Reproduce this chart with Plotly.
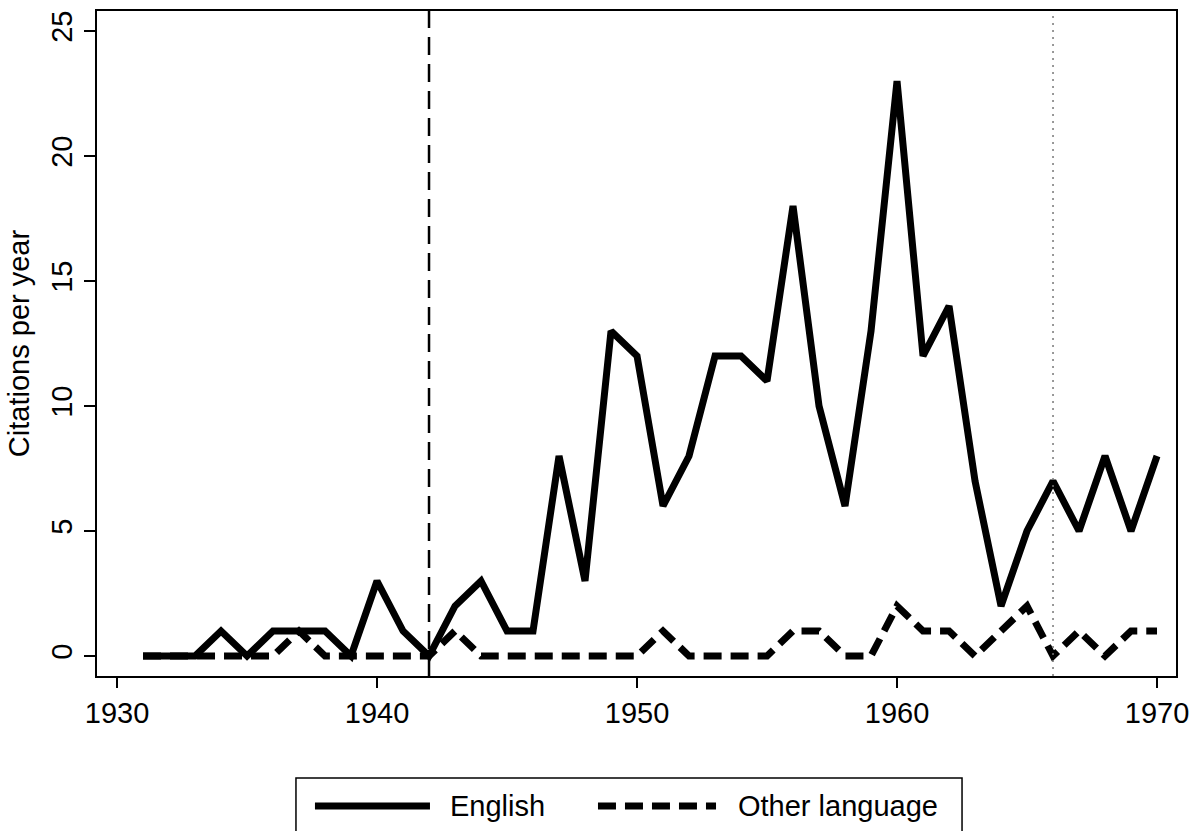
import plotly.graph_objects as go

# Citations per year
years = list(range(1931, 1971))
english = [0, 0, 0, 1, 0, 1, 1, 1, 0, 3,
           1, 0, 2, 3, 1, 1, 8, 3, 13, 12,
           6, 8, 12, 12, 11, 18, 10, 6, 13, 23,
           12, 14, 7, 2, 5, 7, 5, 8, 5, 8]
other = [0, 0, 0, 0, 0, 0, 1, 0, 0, 0,
         0, 0, 1, 0, 0, 0, 0, 0, 0, 0,
         1, 0, 0, 0, 0, 1, 1, 0, 0, 2,
         1, 1, 0, 1, 2, 0, 1, 0, 1, 1]
x_ticks = [1930, 1940, 1950, 1960, 1970]
y_ticks = [0, 5, 10, 15, 20, 25]
dashed_year = 1942
dotted_year = 1966
series_names = ["English", "Other language"]

FONT = "Liberation Sans, Arial, sans-serif"
FS = 29
LW = 7

fig = go.Figure()

fig.add_trace(go.Scatter(
    x=years, y=english, mode="lines", name=series_names[0],
    line=dict(color="black", width=LW), showlegend=False
))
fig.add_trace(go.Scatter(
    x=years, y=other, mode="lines", name=series_names[1],
    line=dict(color="black", width=LW, dash="18px,9px"), showlegend=False
))

# reference lines
fig.add_vline(x=dashed_year, line=dict(color="black", width=2.5, dash="18px,9px"))
fig.add_vline(x=dotted_year, line=dict(color="#777777", width=1.5, dash="2px,5px"))

# legend drawn by hand so the line samples are long like the original
fig.add_shape(type="rect", xref="paper", yref="paper",
              x0=0.1844, x1=0.8017, y0=-0.26, y1=-0.1534,
              line=dict(color="black", width=1.5), fillcolor="white")
fig.add_shape(type="line", xref="paper", yref="paper",
              x0=0.202, x1=0.3086, y0=-0.1955, y1=-0.1955,
              line=dict(color="black", width=LW))
fig.add_shape(type="line", xref="paper", yref="paper",
              x0=0.4643, x1=0.5737, y0=-0.1955, y1=-0.1955,
              line=dict(color="black", width=LW, dash="18px,9px"))
fig.add_annotation(xref="paper", yref="paper", x=0.3253, y=-0.1955,
                   text=series_names[0], showarrow=False, xanchor="left",
                   yanchor="middle", font=dict(size=FS, color="black", family=FONT))
fig.add_annotation(xref="paper", yref="paper", x=0.5922, y=-0.1955,
                   text=series_names[1], showarrow=False, xanchor="left",
                   yanchor="middle", font=dict(size=FS, color="black", family=FONT))

fig.update_layout(
    width=1194, height=831,
    margin=dict(l=97, r=18, t=11, b=155),
    paper_bgcolor="white", plot_bgcolor="white",
    font=dict(family=FONT, size=FS, color="black"),
    xaxis=dict(
        range=[1929.23, 1970.73], tickvals=x_ticks,
        showgrid=False, zeroline=False,
        showline=True, linecolor="black", linewidth=2, mirror=True,
        ticks="outside", ticklen=10, tickwidth=1.5, tickcolor="black",
        tickfont=dict(size=FS), automargin=False,
    ),
    yaxis=dict(
        range=[-0.8, 25.8], tickvals=y_ticks,
        showgrid=False, zeroline=False,
        showline=True, linecolor="black", linewidth=2, mirror=True,
        ticks="outside", ticklen=11, tickwidth=1.5, tickcolor="black",
        tickangle=-90, tickfont=dict(size=FS),
        title=dict(text="Citations per year", font=dict(size=FS), standoff=8),
        automargin=False,
    ),
)

# drop the browser's default body margin so the figure fills the window
fig.write_html("out.html", config={"displayModeBar": False},
               post_script="document.body.style.margin='0';"
                           "document.documentElement.style.overflow='hidden';")
